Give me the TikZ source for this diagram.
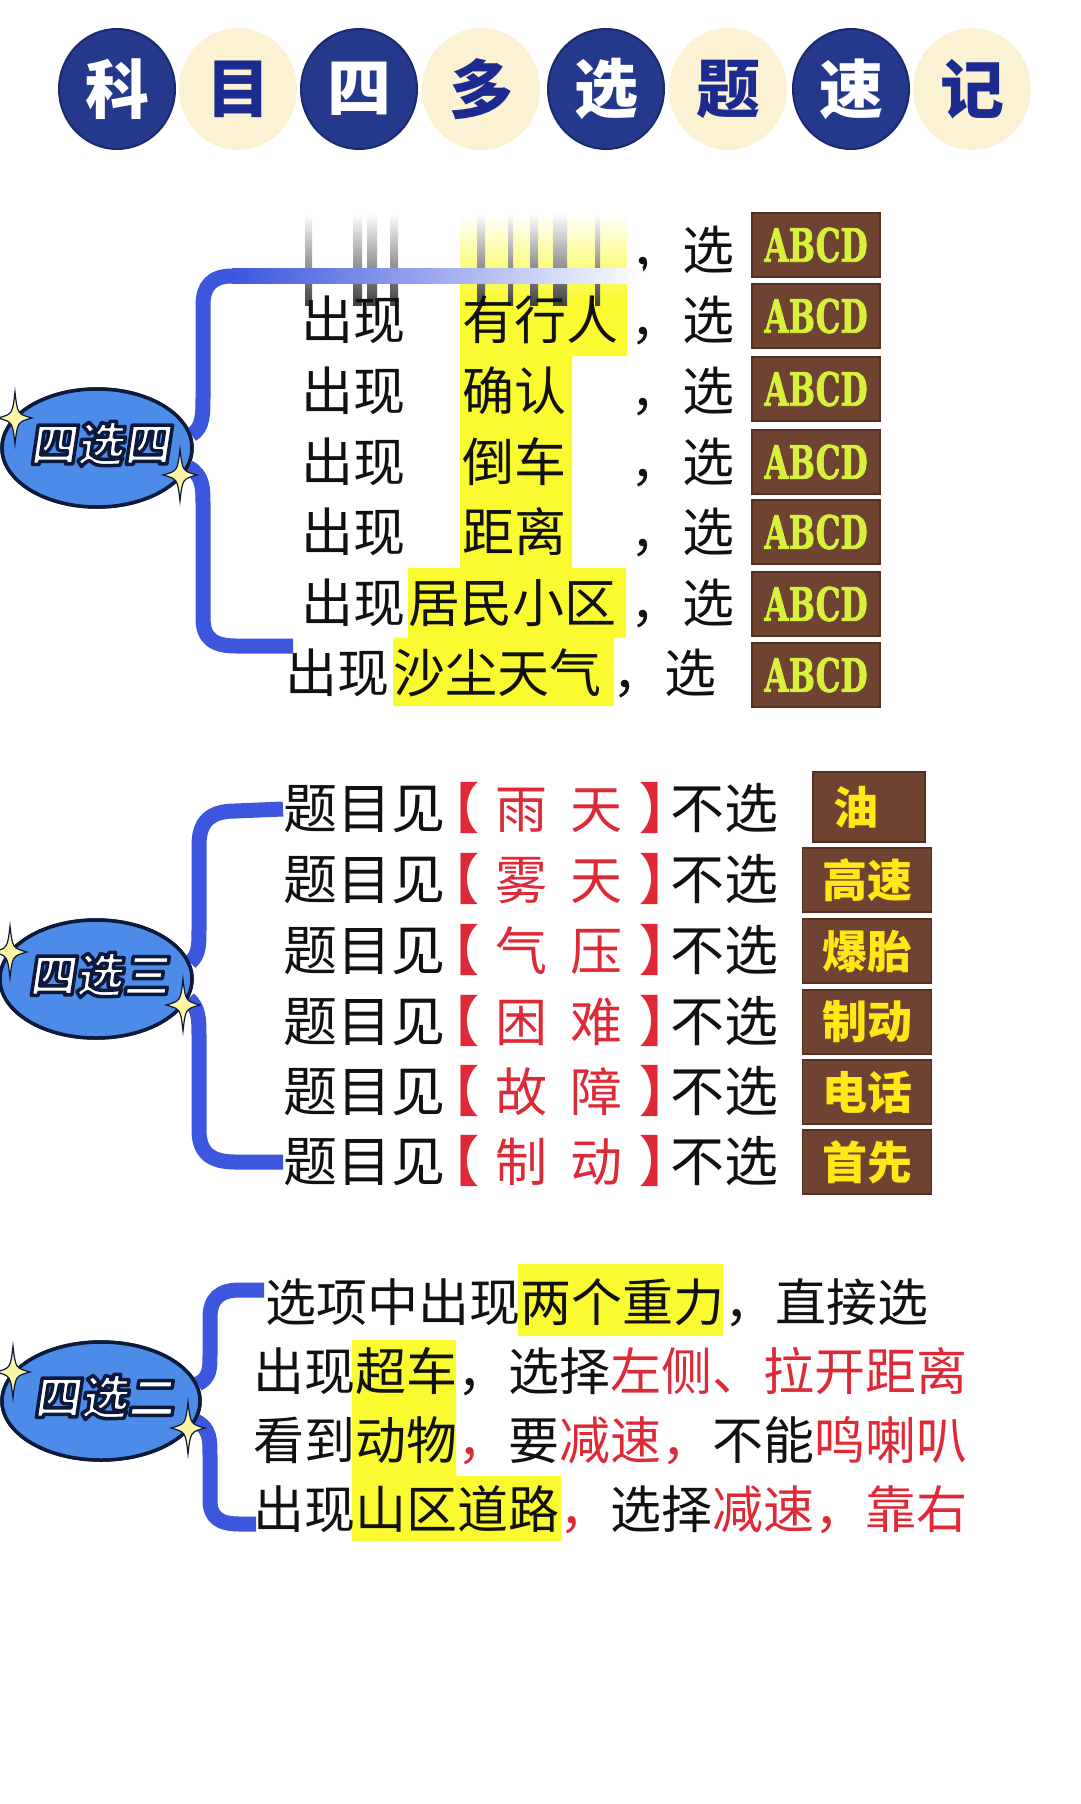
\documentclass[tikz,border=0pt]{standalone}
\usepackage{fontspec}
\usepackage{tikz}
\usetikzlibrary{shapes.geometric,calc}
\newfontfamily\cjk{Noto Sans CJK SC}
\newfontfamily\cjkslant{Noto Sans CJK SC}[FakeSlant=0.15]
\newfontfamily\abcd{DejaVu Serif}[FakeBold=1.6]
\definecolor{KmNavy}{HTML}{24398C}
\definecolor{KmNavyEdge}{HTML}{1A2A6E}
\definecolor{KmCream}{HTML}{FBF2D3}
\definecolor{KmInk}{HTML}{1C2B8F}
\definecolor{KmBrace}{HTML}{3C56DE}
\definecolor{KmSky}{HTML}{4C8BE8}
\definecolor{KmEdge}{HTML}{0D1A3A}
\definecolor{KmStar}{HTML}{FCF5A5}
\definecolor{KmHi}{HTML}{FAFA30}
\definecolor{KmBrown}{HTML}{6F4331}
\definecolor{KmBrownDark}{HTML}{56311F}
\definecolor{KmLime}{HTML}{D6F23A}
\definecolor{KmGold}{HTML}{FFE816}
\definecolor{KmRed}{HTML}{DD2A36}
\definecolor{KmBlack}{HTML}{111111}
\newcommand{\KmRim}[1]{\special{pdf:literal direct 0.05 0.1 0.23 RG 3.5 w 1 j 2 Tr}#1\special{pdf:literal direct 0 Tr}}

\begin{document}
\begin{tikzpicture}[x=1pt,y=-1pt,
    titledark/.style={ellipse,minimum width=116pt,minimum height=120pt,inner sep=0pt,fill=KmNavy,draw=KmNavyEdge,line width=2pt,text=white,font=\cjk\bfseries\fontsize{64}{64}\selectfont},
    titlelight/.style={titledark,fill=KmCream,draw=KmCream,text=KmInk},
    selellipse/.style={ellipse,minimum width=#1,minimum height=118pt,inner sep=0pt,fill=KmSky,draw=KmEdge,line width=3.5pt},
    sellabel/.style={inner sep=0pt,text=white,font=\cjkslant\bfseries\fontsize{47}{47}\selectfont},
    brace/.style={KmBrace,line width=15pt},
    rowtxt/.style={anchor=west,inner sep=0pt,text=KmBlack,text height=44pt,text depth=6pt,font=\cjk\fontsize{52}{52}\selectfont},
    asktxt/.style={rowtxt,text height=45.5pt,text depth=6.5pt,font=\cjk\fontsize{54}{54}\selectfont},
    redtxt/.style={asktxt,text=KmRed,font=\cjk\fontsize{52}{52}\selectfont},
    bractxt/.style={asktxt,text=KmRed,font=\cjk\bfseries\fontsize{54}{54}\selectfont},
    tiptxt/.style={rowtxt,text height=43pt,text depth=6pt,font=\cjk\fontsize{51}{51}\selectfont},
    abcdbox/.style={fill=KmBrown,draw=KmBrownDark,line width=1.5pt,minimum width=128pt,minimum height=64pt,inner sep=0pt,text=KmLime,font=\abcd\bfseries\fontsize{46}{46}\selectfont},
    wordbox/.style={fill=KmBrown,draw=KmBrownDark,line width=1.5pt,minimum width=129pt,minimum height=64pt,inner sep=0pt,text=KmGold,font=\cjk\bfseries\fontsize{45}{45}\selectfont},
    sparkle/.pic={\filldraw[fill=KmStar,draw=KmEdge,line width=1.2pt] (0,-26) .. controls (2.5,-4) .. (17,0) .. controls (2.5,4) .. (0,26) .. controls (-2.5,4) .. (-17,0) .. controls (-2.5,-4) .. cycle;}]
  \fill[white] (0,0) rectangle (1080,1804);
  \useasboundingbox (0,0) rectangle (1080,1804);

  \foreach \x/\c/\s [count=\i] in {117/科/titledark,238/目/titlelight,359/四/titledark,481/多/titlelight,606/选/titledark,728/题/titlelight,851/速/titledark,972/记/titlelight}
    \node[\s] (t\i) at (\x,89) {\c};

  \shade[top color=white,bottom color=KmHi] (460,213) rectangle (627,300);
  \fill[KmHi] (460,299) -- (627,299) -- (627,356) -- (572,356) -- (572,568) -- (626,568) -- (626,638) -- (614,638) -- (614,706) -- (393,706) -- (393,638) -- (408,638) -- (408,568) -- (460,568) -- cycle;
  \foreach \a/\b in {305/312,353/362,367/377,390/398,477/485,508/513,530/538,553/567,595/600}
    \shade[top color=white,bottom color=black!75] (\a,213) rectangle (\b,305);
  \fill[KmHi] (518,1264) rectangle (723,1336);
  \fill[KmHi] (352,1340) -- (456,1340) -- (456,1476) -- (561,1476) -- (561,1541) -- (352,1541) -- cycle;

  \node[selellipse=190pt] (sel4) at (97,448) {};
  \node[selellipse=192pt] (sel3) at (96,979) {};
  \node[selellipse=198pt] (sel2) at (101,1401) {};

  \coordinate (b4top) at (232,276);
  \coordinate (b4bot) at (293,646);
  \coordinate (b2top) at (264,1290);
  \coordinate (b2bot) at (256,1524);

  \foreach \y/\p/\px/\w/\wx/\cx [count=\i from 2] in {320/出现/301/有行人/462/630,391/出现/301/确认/462/630,462/出现/301/倒车/462/630,532/出现/301/距离/462/630,603/出现/301/居民小区/408/630,673/出现/285/沙尘天气/393/612}{
    \node[rowtxt] (p\i) at (\px,\y) {\p};
    \node[rowtxt] (w\i) at (\wx,\y) {\w};
    \node[rowtxt] (c\i) at (\cx,\y) {，选};
  }
  \node[rowtxt] (c1) at (630,250) {，选};
  \foreach \y [count=\i] in {245,316,389,462,532,604,675}
    \node[abcdbox] (k\i) at (816,\y) {\scalebox{0.68}[1]{ABCD}};

  \foreach \y/\wa/\wb/\b [count=\i] in {809/雨/天/油,880/雾/天/高速,951/气/压/爆胎,1022/困/难/制动,1092/故/障/电话,1162/制/动/首先}{
    \node[asktxt] (q\i) at (283,\y) {题目见};
    \node[bractxt] (lb\i) at (425,\y) {【};
    \node[redtxt] (rw\i) at (495,\y) {\wa\hspace{23pt}\wb};
    \node[bractxt] (rb\i) at (639,\y) {】};
    \node[asktxt] (n\i) at (670,\y) {不选};
    \ifnum\i>1 \node[wordbox] (o\i) at (867,\y) {\b};\fi
  }
  \node[wordbox,minimum width=112pt,minimum height=70pt] (o1) at (869,807) {\makebox[72pt][l]{油}};

  \node[tiptxt] (s1) at (265,1303) {选项中出现两个重力，直接选};
  \node[tiptxt] (s2) at (253,1372) {出现超车，选择{\color{KmRed}左侧、拉开距离}};
  \node[tiptxt] (s3) at (253,1441) {看到动物{\color{KmRed}，}要{\color{KmRed}减速，}不能{\color{KmRed}鸣喇叭}};
  \node[tiptxt] (s4) at (253,1510) {出现山区道路{\color{KmRed}，}选择{\color{KmRed}减速，靠右}};

  \shade[left color=KmBrace,middle color=KmBrace!25,right color=white] (232,268.5) rectangle (643,283.5);
  \draw[brace] (sel4.8) .. controls (203,428) and (203,415) .. (203,395) -- (203,305) .. controls (203,286) and (212,276) .. (b4top);
  \draw[brace] (sel4.-12) .. controls (203,475) and (203,488) .. (203,505) -- (203,618) .. controls (203,638) and (213,646) .. (236,646) -- (b4bot);
  \draw[brace] (sel3.10) .. controls (199,955) and (199,945) .. (199,930) -- (199,845) .. controls (199,822) and (210,811) .. (235,811) -- (q1.west);
  \draw[brace] (sel3.-12) .. controls (199,1008) and (199,1020) .. (199,1035) -- (199,1130) .. controls (199,1152) and (210,1162) .. (235,1162) -- (q6.west);
  \draw[brace] (sel2.10) .. controls (210,1378) and (210,1368) .. (210,1355) -- (210,1318) .. controls (210,1298) and (220,1290) .. (240,1290) -- (b2top);
  \draw[brace] (sel2.-12) .. controls (210,1428) and (210,1440) .. (210,1455) -- (210,1500) .. controls (210,1518) and (220,1524) .. (240,1524) -- (b2bot);

  \node[selellipse=190pt] at (sel4) {};
  \node[selellipse=192pt] at (sel3) {};
  \node[selellipse=198pt] at (sel2) {};
  \node[sellabel] (l4) at ($(sel4)+(3,-4)$) {\KmRim{四选四}};
  \node[sellabel] (l3) at ($(sel3)+(3,-4)$) {\KmRim{四选三}};
  \node[sellabel] (l2) at ($(sel2)+(3,-4)$) {\KmRim{四选二}};

  \foreach \x/\y in {15/418,180/475,10/952,183/1005,13/1372,188/1428}
    \pic at (\x,\y) {sparkle};
\end{tikzpicture}
\end{document}
